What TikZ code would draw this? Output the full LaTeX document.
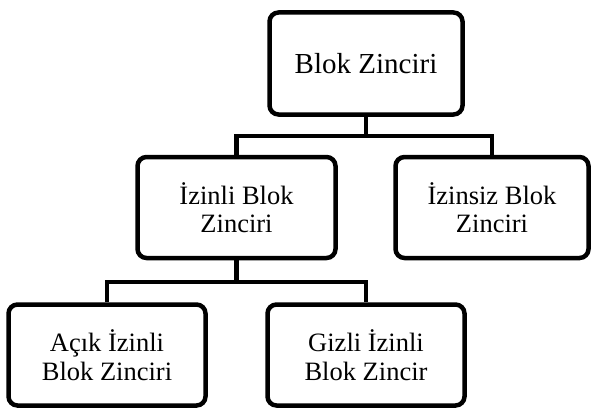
\documentclass[tikz,border=0pt]{standalone}
\usepackage{fontspec}
\setmainfont{Liberation Serif}
\usetikzlibrary{positioning}
\tikzset{
	kutu/.style={draw=black, line width=4.5pt, rounded corners=9pt, align=center,
		inner sep=2pt, minimum height=101pt, font=\fontsize{26.5}{28.5}\selectfont},
	bag/.style={draw=black, line width=4.5pt},
}

\begin{document}
\begin{tikzpicture}[x=1pt, y=-1pt]
	\useasboundingbox (0,0) rectangle (591,412);
	\node[kutu, minimum width=193pt, minimum height=102pt, font=\fontsize{29}{31}\selectfont] (blok) at (366,63.5) {Blok Zinciri};
	\node[kutu, minimum width=198pt] (izinli) at (236.5,207.5) {İzinli Blok\\Zinciri};
	\node[kutu, minimum width=193pt] (izinsiz) at (492,207.5) {İzinsiz Blok\\Zinciri};
	\node[kutu, minimum width=197pt] (acik) at (107,355) {Açık İzinli\\Blok Zinciri};
	\node[kutu, minimum width=197pt] (gizli) at (366,355) {Gizli İzinli\\Blok Zincir};
	% ust dal
	\coordinate (b1) at (366,136);
	\draw[bag] (blok.south) -- (b1);
	\draw[bag] (izinli.north) |- (b1) -| (izinsiz.north);
	% alt dal
	\coordinate (b2) at (236.5,282);
	\draw[bag] (izinli.south) -- (b2);
	\draw[bag] (acik.north) |- (b2) -| (gizli.north);
\end{tikzpicture}
\end{document}
